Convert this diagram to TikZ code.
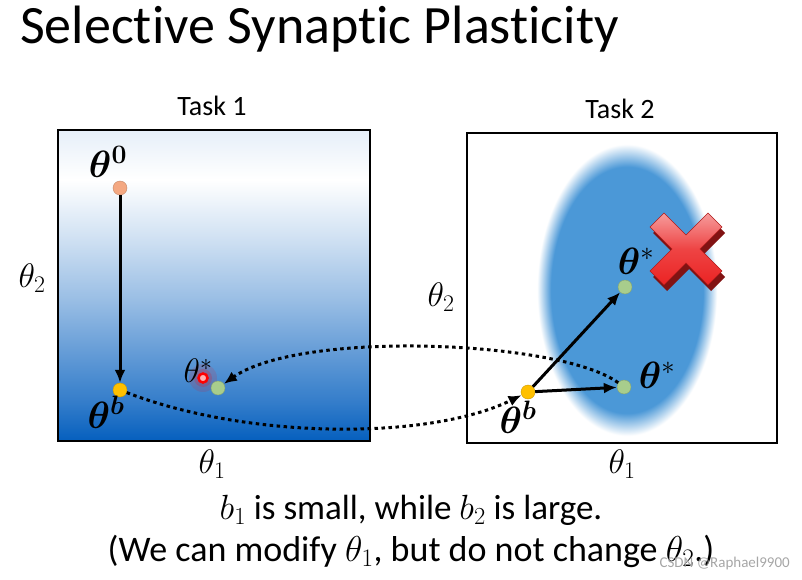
\RequirePackage{fix-cm}
\documentclass[tikz,border=0pt]{standalone}
\usepackage{fontspec}
\setmainfont{Carlito}[Ligatures=NoCommon]
\usepackage{bm}
\usepackage{tikz}
\usetikzlibrary{arrows.meta,positioning}
\definecolor{Deep}{RGB}{5,95,190}
\definecolor{Blob}{RGB}{75,152,215}
\definecolor{Seed}{RGB}{244,168,130}
\definecolor{Base}{RGB}{255,192,0}
\definecolor{Goal}{RGB}{168,205,140}
\definecolor{Cross}{RGB}{235,35,35}
\pgfdeclareverticalshading{taskone}{100bp}{color(0bp)=(Deep); color(25bp)=(Deep); color(31bp)=(Deep!82!white); color(40bp)=(Deep!60!white); color(48bp)=(Deep!40!white); color(58bp)=(Deep!18!white); color(67bp)=(white); color(75bp)=(Deep!10!white); color(100bp)=(Deep!10!white)}
\pgfdeclareradialshading{tasktwo}{\pgfpoint{0bp}{0bp}}{color(0bp)=(Blob); color(19bp)=(Blob); color(22.5bp)=(white); color(50bp)=(white)}

\begin{document}
\begin{tikzpicture}[x=1pt,y=-1pt,
  panel/.style={draw=black,line width=2.5pt},
  dot/.style={circle,inner sep=0pt,minimum size=14pt,draw=#1!80!black,line width=0.4pt,fill=#1},
  lbl/.style={font=\fontsize{38}{42}\selectfont,inner sep=0pt},
  axis/.style={font=\fontsize{34}{38}\selectfont,inner sep=0pt},
  head/.style={font=\fontsize{28}{32}\selectfont,inner sep=0pt},
  arr/.style={-{Latex[length=13pt,width=11pt]},line width=3pt},
  hop/.style={-{Latex[length=13pt,width=11pt]},line width=3pt,dash pattern=on 3.5pt off 3.5pt}]
  \useasboundingbox (0,0) rectangle (802,580);
  % title
  \node[font=\fontsize{54}{60}\selectfont,anchor=base west,inner sep=0pt] (title) at (20,44) {Selective Synaptic Plasticity};
  % task 1 panel
  \node[head] (t1) at (212,106) {Task 1};
  \shade[shading=taskone] (58,130) rectangle (370,441);
  \draw[panel] (58,130) rectangle (370,441);
  \node[axis] (ya) at (32,278) {$\theta_2$};
  \node[axis] (xa) at (212,464) {$\theta_1$};
  % task 2 panel
  \node[head] (t2) at (620,109) {Task 2};
  \draw[panel,fill=white] (467,133) rectangle (777,443);
  \begin{scope}
    \clip (467,133) rectangle (777,443);
    \shade[shading=tasktwo] (627,290) ellipse [x radius=100,y radius=162];
  \end{scope}
  \draw[panel] (467,133) rectangle (777,443);
  \node[axis] (yb) at (441,297) {$\theta_2$};
  \node[axis] (xb) at (622,464) {$\theta_1$};
  % points
  \node[dot=Seed] (p0) at (120,188) {};
  \node[dot=Base] (pb) at (120,390) {};
  \fill[red,opacity=0.12] (203,378) circle (14);
  \fill[red,opacity=0.18] (203,378) circle (9);
  \node[dot=Goal] (pg) at (218,388) {};
  \node[circle,inner sep=0pt,minimum size=9pt,draw=red,line width=2.5pt,fill=red!30!white] (pr) at (203,378) {};
  \node[dot=Base] (qb) at (528,392) {};
  \node[dot=Goal] (qs) at (624,387) {};
  \node[dot=Goal] (qu) at (625,287) {};
  % labels
  \node[lbl] (l0) at (108,162) {$\bm{\theta}^{\bm{0}}$};
  \node[lbl] (lb) at (106,412) {$\bm{\theta}^{\bm{b}}$};
  \node[lbl,font=\fontsize{34}{38}\selectfont] (lg) at (198,371) {$\theta^*$};
  \node[lbl] (mb) at (518,417) {$\bm{\theta}^{\bm{b}}$};
  \node[lbl] (ms) at (657,375) {$\bm{\theta}^*$};
  \node[lbl] (mu) at (636,261) {$\bm{\theta}^*$};
  % red cross
  \begin{scope}[shift={(689,255)}]
    \fill[Cross!55!black] (22,36)--(0,14)--(-22,36)--(-36,22)--(-14,0)--(-36,-22)--(-22,-36)--(0,-14)--(22,-36)--(36,-22)--(14,0)--(36,22)--cycle;
  \end{scope}
  \begin{scope}[shift={(686,249)}]
    \shade[top color=Cross!45!white,bottom color=Cross,middle color=Cross!85!white,draw=Cross!75!black,line width=0.5pt] (22,36)--(0,14)--(-22,36)--(-36,22)--(-14,0)--(-36,-22)--(-22,-36)--(0,-14)--(22,-36)--(36,-22)--(14,0)--(36,22)--cycle;
  \end{scope}
  % moves
  \draw[arr] (p0)--(pb);
  \draw[arr] (qb)--(qs);
  \draw[arr] (qb)--(qu);
  \draw[hop] (pb) .. controls (250,440) and (430,440) .. (qb);
  \draw[hop] (qs) .. controls (560,340) and (300,330) .. (pg);
  % captions
  \node[font=\fontsize{35}{40}\selectfont,inner sep=0pt] (c1) at (411,510) {$b_1$ is small, while $b_2$ is large.};
  \node[font=\fontsize{36}{40}\selectfont,inner sep=0pt] (c2) at (411,551) {(We can modify $\theta_1$, but do not change $\theta_2$.)};
  \node[font=\fontsize{15}{18}\selectfont,text=gray!70,inner sep=0pt,anchor=east] (wm) at (790,563) {CSDN @Raphael9900};
\end{tikzpicture}
\end{document}
